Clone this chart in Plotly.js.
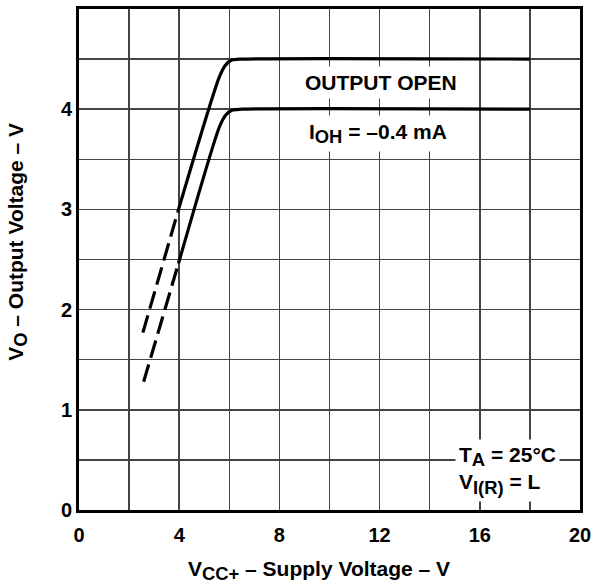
<!DOCTYPE html>
<html><head><meta charset="utf-8">
<script src="https://cdn.plot.ly/plotly-3.0.1.min.js"></script>
<style>body{margin:0;padding:0;background:#fff}#c{width:610px;height:588px}</style>
</head><body><div id="c"></div>
<script>
// Output voltage vs supply voltage
const openDashX = [2.55, 3.95];
const openDashY = [1.77, 2.98];
const openSolidX = [3.95, 5.6, 5.85, 6.1, 6.5, 18];
const openSolidY = [2.98, 4.32, 4.44, 4.49, 4.50, 4.50];
const loadDashX = [2.58, 3.97];
const loadDashY = [1.28, 2.46];
const loadSolidX = [3.97, 5.6, 5.85, 6.1, 6.5, 18];
const loadSolidY = [2.46, 3.82, 3.94, 3.99, 4.00, 4.00];
const xTicks = [0, 4, 8, 12, 16, 20];
const yTicks = [0, 1, 2, 3, 4, 5];

const lineStyle = {color: '#000', width: 3.2};
const traces = [
  {x: openDashX, y: openDashY, mode: 'lines', line: Object.assign({dash: '18px,7px'}, lineStyle)},
  {x: openSolidX, y: openSolidY, mode: 'lines', line: Object.assign({shape: 'spline', smoothing: 0.7}, lineStyle)},
  {x: loadDashX, y: loadDashY, mode: 'lines', line: Object.assign({dash: '18px,7px'}, lineStyle)},
  {x: loadSolidX, y: loadSolidY, mode: 'lines', line: Object.assign({shape: 'spline', smoothing: 0.7}, lineStyle)}
];
const fam = 'Liberation Sans, Arial, sans-serif';
const tickFont = {family: fam, size: 20, color: '#000', weight: 'bold'};
const textFont = {family: fam, size: 21, color: '#000', weight: 'bold'};
const gridColor = '#444';
const sub = s => '<sub><span style="font-size:125%">' + s + '</span></sub>';
const layout = {
  width: 610, height: 588,
  margin: {l: 79, r: 30, t: 9, b: 78},
  paper_bgcolor: '#fff', plot_bgcolor: '#fff',
  showlegend: false,
  font: textFont,
  xaxis: {
    range: [0, 20], tickvals: xTicks, ticktext: xTicks.map(String),
    showgrid: true, gridcolor: gridColor, gridwidth: 1.5,
    minor: {dtick: 2, showgrid: true, gridcolor: gridColor, gridwidth: 1.5},
    showline: true, linecolor: '#000', linewidth: 3, mirror: true,
    zeroline: false, ticks: '', ticklen: 0, ticklabelstandoff: 5,
    tickfont: tickFont
  },
  yaxis: {
    range: [0, 5], tickvals: yTicks, ticktext: yTicks.map(String),
    showgrid: true, gridcolor: gridColor, gridwidth: 1.5,
    minor: {dtick: 0.5, showgrid: true, gridcolor: gridColor, gridwidth: 1.5},
    showline: true, linecolor: '#000', linewidth: 3, mirror: true,
    zeroline: false, ticks: '', ticklen: 0,
    tickfont: tickFont
  },
  annotations: [
    {x: 0.479, y: -0.12, xref: 'paper', yref: 'paper', xanchor: 'center', yanchor: 'middle',
     text: 'V' + sub('CC+') + ' – Supply Voltage – V', showarrow: false, font: textFont},
    {x: -0.122, y: 0.535, xref: 'paper', yref: 'paper', xanchor: 'center', yanchor: 'middle', textangle: -90,
     text: 'V' + sub('O') + ' – Output Voltage – V', showarrow: false, font: textFont},
    {x: 12.06, y: 4.27, xref: 'x', yref: 'y', text: 'OUTPUT OPEN', showarrow: false,
     font: textFont, bgcolor: '#fff', borderpad: 4},
    {x: 8.98, y: 3.76, xref: 'x', yref: 'y', xanchor: 'left', text: 'I' + sub('OH') + ' = –0.4 mA', showarrow: false,
     font: textFont, bgcolor: '#fff', borderpad: 4},
    {x: 17.09, y: 0.39, xref: 'x', yref: 'y', text: 'T' + sub('A') + ' = 25°C<br>V' + sub('I(R)') + ' = L', showarrow: false,
     align: 'left', font: textFont, bgcolor: '#fff', borderpad: 3}
  ]
};
Plotly.newPlot('c', traces, layout, {displayModeBar: false, staticPlot: true});
</script></body></html>
